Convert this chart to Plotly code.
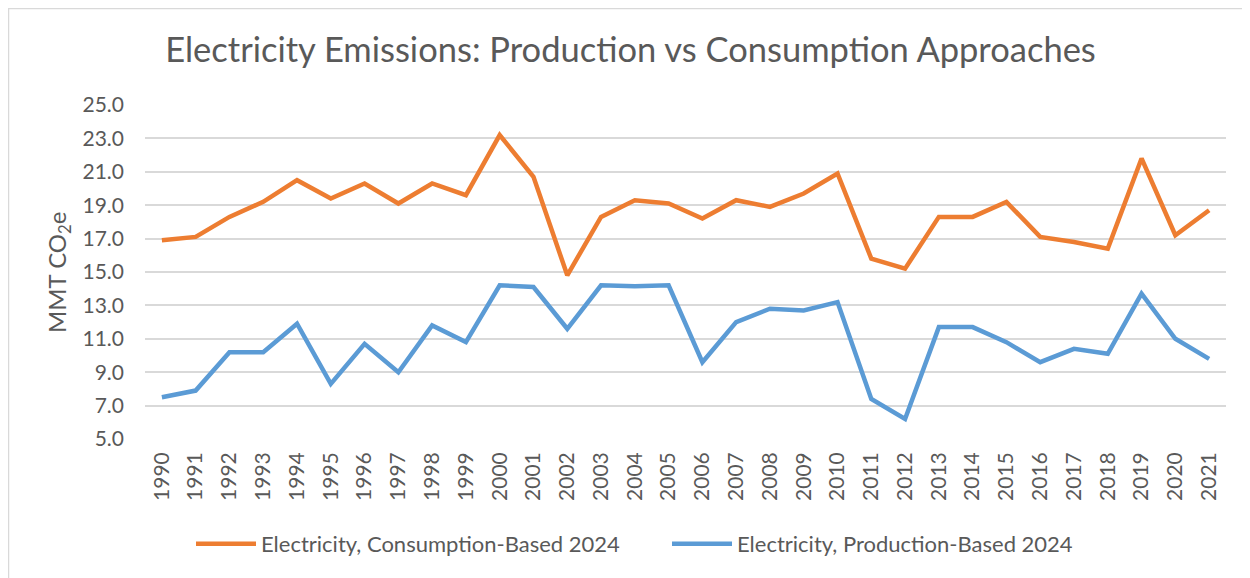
import plotly.graph_objects as go

years = [str(y) for y in range(1990, 2022)]
consumption = [16.9, 17.1, 18.3, 19.2, 20.5, 19.4, 20.3, 19.1, 20.3, 19.6,
               23.2, 20.7, 14.8, 18.3, 19.3, 19.1, 18.2, 19.3, 18.9, 19.7,
               20.9, 15.8, 15.2, 18.3, 18.3, 19.2, 17.1, 16.8, 16.4, 21.8,
               17.2, 18.7]
production = [7.5, 7.9, 10.2, 10.2, 11.9, 8.3, 10.7, 9.0, 11.8, 10.8,
              14.2, 14.1, 11.6, 14.2, 14.15, 14.2, 9.6, 12.0, 12.8, 12.7,
              13.2, 7.4, 6.2, 11.7, 11.7, 10.8, 9.6, 10.4, 10.1, 13.7,
              11.0, 9.8]
y_ticks = [5, 7, 9, 11, 13, 15, 17, 19, 21, 23, 25]

# page body has an 8px margin; work in figure coordinates = page - 8
OFF = 8
W, H = 1250 - OFF, 578 - OFF
L, R, T, B = 145 - OFF, 24, 105 - OFF, 578 - 439
FONT = "Lato, Calibri, Carlito, sans-serif"
GREY = "#595959"

fig = go.Figure()
fig.add_trace(go.Scatter(x=years, y=consumption, mode="lines",
                         name="Electricity, Consumption-Based 2024",
                         line=dict(color="#ED7D31", width=4.5), legend="legend"))
fig.add_trace(go.Scatter(x=years, y=production, mode="lines",
                         name="Electricity, Production-Based 2024",
                         line=dict(color="#5B9BD5", width=4.5), legend="legend2"))

pw, ph = W - L - R, H - T - B
def px_x(x): return (x - OFF - L) / pw          # page px -> paper x
def px_y(y): return (H - B - (y - OFF)) / ph    # page px -> paper y

fig.add_shape(type="rect", xref="paper", yref="paper",
              x0=px_x(8.5), x1=px_x(1300),
              y0=px_y(650), y1=px_y(8.5),
              line=dict(color="#D9D9D9", width=1.5), layer="below")

fig.add_annotation(text="MMT CO<sub>2</sub>e", xref="paper", yref="paper",
                   x=px_x(58), y=px_y(272), xanchor="center", yanchor="middle",
                   textangle=-90, showarrow=False,
                   font=dict(size=24, color=GREY, family=FONT))

leg_common = dict(orientation="h", yanchor="middle", xanchor="left",
                  font=dict(size=22, color=GREY), itemwidth=60,
                  bgcolor="rgba(0,0,0,0)")

fig.update_layout(
    width=W, height=H,
    margin=dict(l=L, r=R, t=T, b=B),
    paper_bgcolor="white", plot_bgcolor="white",
    font=dict(family=FONT, color=GREY),
    title=dict(text="Electricity Emissions: Production vs Consumption Approaches",
               x=(630.5 - OFF) / W, xanchor="center", y=1 - (50 - OFF) / H,
               yanchor="middle",
               font=dict(size=34.5, color=GREY, family=FONT)),
    xaxis=dict(type="category", tickangle=-90, range=[-0.5, 31.5],
               showgrid=False, showline=False, ticks="", ticklabelstandoff=8,
               tickfont=dict(size=21, color=GREY)),
    yaxis=dict(range=[5, 25], tickvals=y_ticks, tickformat=".1f",
               showgrid=True, gridcolor="#D9D9D9", gridwidth=1.5,
               zeroline=False, showline=False, ticks="", ticklabelstandoff=20,
               tickfont=dict(size=21, color=GREY)),
    legend=dict(x=px_x(191), y=px_y(544), **leg_common),
    legend2=dict(x=px_x(667), y=px_y(544), **leg_common),
    showlegend=True,
)

fig.write_html("out.html")
